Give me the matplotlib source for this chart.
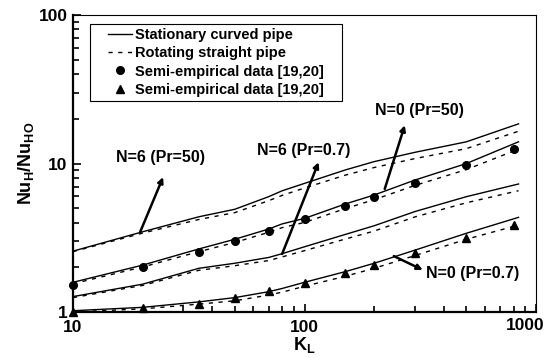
import matplotlib
matplotlib.use("Agg")
import matplotlib.pyplot as plt
from matplotlib.patches import Rectangle
from matplotlib.ticker import LogLocator, NullFormatter

plt.rcParams['font.family'] = ['Liberation Sans', 'DejaVu Sans']
plt.rcParams['font.weight'] = 'bold'
plt.rcParams['mathtext.fontset'] = 'custom'
plt.rcParams['mathtext.rm'] = 'Liberation Sans:bold'
plt.rcParams['mathtext.bf'] = 'Liberation Sans:bold'
plt.rcParams['mathtext.it'] = 'Liberation Sans:bold'

# K_L grid for the computed curves
k_curve = [10, 20, 35, 50, 70, 80, 100, 150, 200, 300, 500, 840]

# N=6, Pr=50
curved_n6_pr50 = [2.57, 3.47, 4.38, 4.92, 5.98, 6.55, 7.35, 9.05, 10.3, 11.9, 14.0, 18.5]
rot_n6_pr50 = [2.55, 3.40, 4.20, 4.67, 5.62, 6.10, 6.84, 8.35, 9.40, 10.8, 12.6, 16.5]
# N=0, Pr=50
curved_n0_pr50 = [1.585, 2.07, 2.66, 3.09, 3.62, 3.92, 4.27, 5.34, 6.14, 7.74, 10.0, 14.0]
rot_n0_pr50 = [1.55, 2.01, 2.55, 2.94, 3.44, 3.70, 4.01, 4.97, 5.71, 7.12, 9.1, 12.5]
# N=6, Pr=0.7
curved_n6_pr07 = [1.27, 1.54, 1.97, 2.13, 2.33, 2.47, 2.75, 3.33, 3.81, 4.75, 5.98, 7.28]
rot_n6_pr07 = [1.25, 1.51, 1.91, 2.05, 2.22, 2.35, 2.59, 3.10, 3.51, 4.37, 5.44, 6.56]
# N=0, Pr=0.7
curved_n0_pr07 = [1.02, 1.075, 1.17, 1.25, 1.37, 1.44, 1.585, 1.87, 2.13, 2.61, 3.39, 4.34]
rot_n0_pr07 = [1.0, 1.05, 1.13, 1.19, 1.30, 1.36, 1.49, 1.74, 1.97, 2.40, 3.09, 3.85]

# semi-empirical data [19,20]
k_data = [10, 20, 35, 50, 70, 100, 150, 200, 300, 500, 800]
data_pr50 = [1.52, 2.01, 2.54, 3.0, 3.51, 4.23, 5.17, 5.95, 7.39, 9.77, 12.5]
data_pr07 = [1.0, 1.06, 1.13, 1.24, 1.39, 1.57, 1.83, 2.07, 2.50, 3.15, 3.85]

xticks = [10, 100, 1000]
xtick_labels = ['10', '100', '']  # 1000 is written separately below
yticks = [1, 10, 100]
ytick_labels = ['1', '10', '100']

fig = plt.figure(figsize=(5.47, 3.58), dpi=100)
ax = fig.add_axes([0.1335, 0.1285, 0.8465, 0.8295])

solid = dict(color='black', lw=1.0, ls='-')
dash = dict(color='black', lw=1.0, ls=(0, (3, 4)))

l1, = ax.plot(k_curve, curved_n6_pr50, **solid)
l2, = ax.plot(k_curve, rot_n6_pr50, **dash)
ax.plot(k_curve, curved_n0_pr50, **solid)
ax.plot(k_curve, rot_n0_pr50, **dash)
ax.plot(k_curve, curved_n6_pr07, **solid)
ax.plot(k_curve, rot_n6_pr07, **dash)
ax.plot(k_curve, curved_n0_pr07, **solid)
ax.plot(k_curve, rot_n0_pr07, **dash)

m1, = ax.plot(k_data, data_pr50, 'o', color='black', ms=5.5, clip_on=False)
m2, = ax.plot(k_data, data_pr07, '^', color='black', ms=5.5, clip_on=False)

ax.set_xscale('log')
ax.set_yscale('log')
ax.set_xlim(10, 1000)
ax.set_ylim(1, 100)

ax.set_xticks(xticks, xtick_labels, fontweight='bold')
ax.set_yticks(yticks, ytick_labels, fontweight='bold')
ax.xaxis.set_minor_locator(LogLocator(base=10, subs=range(2, 10)))
ax.yaxis.set_minor_locator(LogLocator(base=10, subs=range(2, 10)))
ax.xaxis.set_minor_formatter(NullFormatter())
ax.yaxis.set_minor_formatter(NullFormatter())

ax.tick_params(which='both', direction='in', top=False, right=False,
               labelsize=12.5, width=1.2)
ax.tick_params(which='major', length=6)
ax.tick_params(which='minor', length=4)
ax.tick_params(axis='x', pad=6)
ax.tick_params(axis='y', pad=4)

# last x label, pulled a little left so it stays inside the figure
ax.annotate('1000', xy=(1000, 0), xycoords=('data', 'axes fraction'),
            xytext=(-7.5, -4.5), textcoords='offset points',
            ha='center', va='top', fontsize=12.5, fontweight='bold')

for side in ['left', 'bottom']:
    ax.spines[side].set_linewidth(1.6)
for side in ['top', 'right']:
    ax.spines[side].set_linewidth(0.8)

ax.set_xlabel(r'$\mathbf{K_{L}}$', fontsize=13, labelpad=0)
ax.set_ylabel(r'$\mathbf{Nu_{H}/Nu_{HO}}$', fontsize=13, labelpad=2)

leg = ax.legend([l1, l2, m1, m2],
                ['Stationary curved pipe', 'Rotating straight pipe',
                 'Semi-empirical data [19,20]', 'Semi-empirical data [19,20]'],
                loc='upper left', bbox_to_anchor=(0.069, 0.967),
                prop={'size': 10.5, 'weight': 'bold'}, frameon=False,
                handlelength=1.65, handletextpad=0.2, labelspacing=0.3,
                borderpad=0.2, borderaxespad=0)

arrow = dict(arrowstyle='-|>', color='black', lw=1.8, mutation_scale=8,
             shrinkA=0, shrinkB=0)
note = dict(fontsize=11.5, fontweight='bold', va='center')
ax.annotate('', xy=(24.5, 8.1), xytext=(19.5, 3.46), arrowprops=arrow)
ax.text(23.8, 11.0, 'N=6 (Pr=50)', ha='center', **note)

ax.annotate('', xy=(115, 10.2), xytext=(80, 2.46), arrowprops=arrow)
ax.text(99, 12.15, 'N=6 (Pr=0.7)', ha='center', **note)

ax.annotate('', xy=(271, 18.1), xytext=(222, 6.74), arrowprops=arrow)
ax.text(315, 22.9, 'N=0 (Pr=50)', ha='center', **note)

ax.annotate('', xy=(324, 1.92), xytext=(243, 2.38), arrowprops=arrow)
ax.text(334, 1.83, 'N=0 (Pr=0.7)', ha='left', **note)

# square frame around the legend, wider than its content
fig.canvas.draw()
bb = leg.get_window_extent()
ax.add_artist(Rectangle((bb.x0 - 15, bb.y0 - 1), bb.width + 30, bb.height + 2,
                        transform=None, fill=False, edgecolor='black', lw=0.8))

fig.savefig('out.png', dpi=100)
